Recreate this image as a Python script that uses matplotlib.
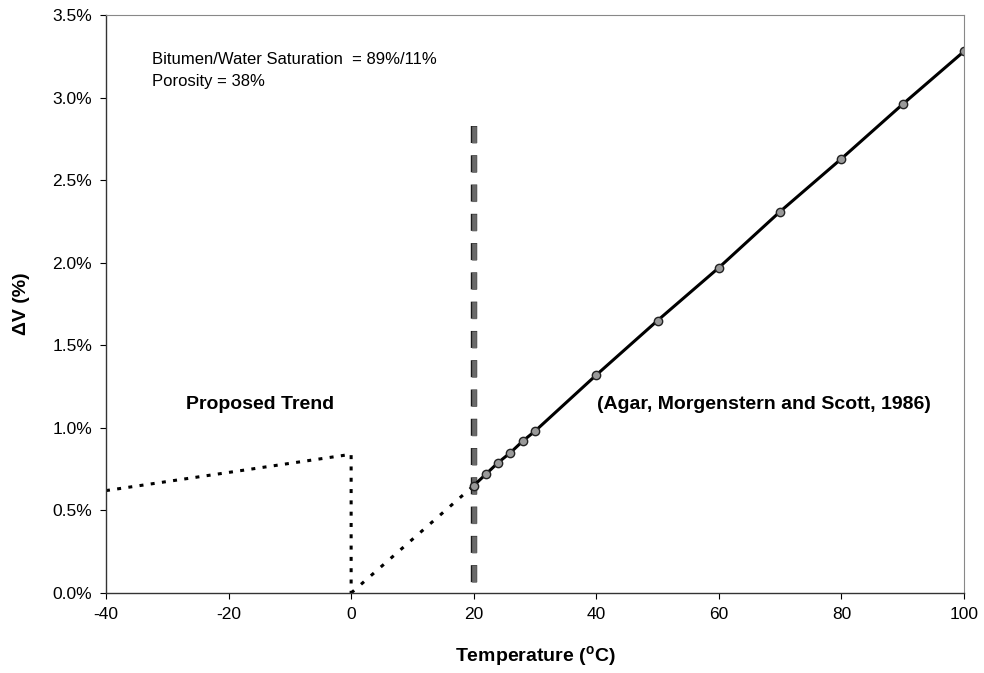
import matplotlib
matplotlib.use("Agg")
import matplotlib.pyplot as plt
from matplotlib.ticker import FuncFormatter
import matplotlib.patheffects as pe

plt.rcParams['font.family'] = ['Liberation Sans', 'DejaVu Sans']
plt.rcParams['axes.unicode_minus'] = False

# Measured data (Agar, Morgenstern and Scott, 1986)
temp_meas = [20, 22, 24, 26, 28, 30, 40, 50, 60, 70, 80, 90, 100]
dv_meas = [0.65, 0.72, 0.79, 0.85, 0.92, 0.98, 1.32, 1.65, 1.97, 2.31, 2.63, 2.96, 3.28]

# Proposed trend
temp_frozen = [-40, 0, 0]
dv_frozen = [0.62, 0.84, 0.0]
temp_thaw = [0, 20]
dv_thaw = [0.0, 0.65]

# Reference line at 20 C
ref_x = 20
ref_top = 2.83

fig = plt.figure(figsize=(9.84, 6.73), dpi=100)
ax = fig.add_axes([0.1077, 0.1189, 0.872, 0.8588])

ax.plot(temp_frozen, dv_frozen, linestyle=(0, (1.3, 2.4)), color='black', linewidth=2.2)
ax.plot(temp_thaw, dv_thaw, linestyle=(0, (1.3, 3.0)), color='black', linewidth=2.2)
ax.plot([ref_x, ref_x], [ref_top, 0], linestyle=(0, (3.6, 2.6)), color='#6a6a6a', linewidth=3.4,
        dash_capstyle='butt',
        path_effects=[pe.Stroke(linewidth=4.6, foreground='#1a1a1a'), pe.Normal()])
ax.plot(temp_meas, dv_meas, color='black', linewidth=2.2, marker='o', markersize=6,
        markerfacecolor='#999999', markeredgecolor='#222222', markeredgewidth=1.0)

ax.set_xlim(-40, 100)
ax.set_ylim(0, 3.5)
ax.set_xticks(range(-40, 101, 20))
ax.set_yticks([0, 0.5, 1.0, 1.5, 2.0, 2.5, 3.0, 3.5])
ax.yaxis.set_major_formatter(FuncFormatter(lambda v, p: f"{v:.1f}%"))
ax.tick_params(axis='both', labelsize=12.5, direction='out', length=4, width=0.8, pad=6)

for side in ['top', 'right']:
    ax.spines[side].set_linestyle((0, (1, 1)))
    ax.spines[side].set_color('#888888')
    ax.spines[side].set_linewidth(0.8)
for side in ['left', 'bottom']:
    ax.spines[side].set_color('#333333')
    ax.spines[side].set_linewidth(1.0)

ax.set_xlabel("Temperature ($^{\\mathregular{o}}$C)", fontsize=14, fontweight='bold', labelpad=16)
ax.set_ylabel("ΔV (%)", fontsize=14, fontweight='bold', labelpad=16)

ax.text(0.054, 0.936, "Bitumen/Water Saturation  = 89%/11%\nPorosity = 38%", transform=ax.transAxes,
        fontsize=12, va='top', ha='left', linespacing=1.55)
ax.text(-14.9, 1.14, "Proposed Trend", fontsize=14, fontweight='bold', ha='center', va='center')
ax.text(67.3, 1.14, "(Agar, Morgenstern and Scott, 1986)", fontsize=14, fontweight='bold', ha='center', va='center')

fig.savefig("out.png", dpi=100)
